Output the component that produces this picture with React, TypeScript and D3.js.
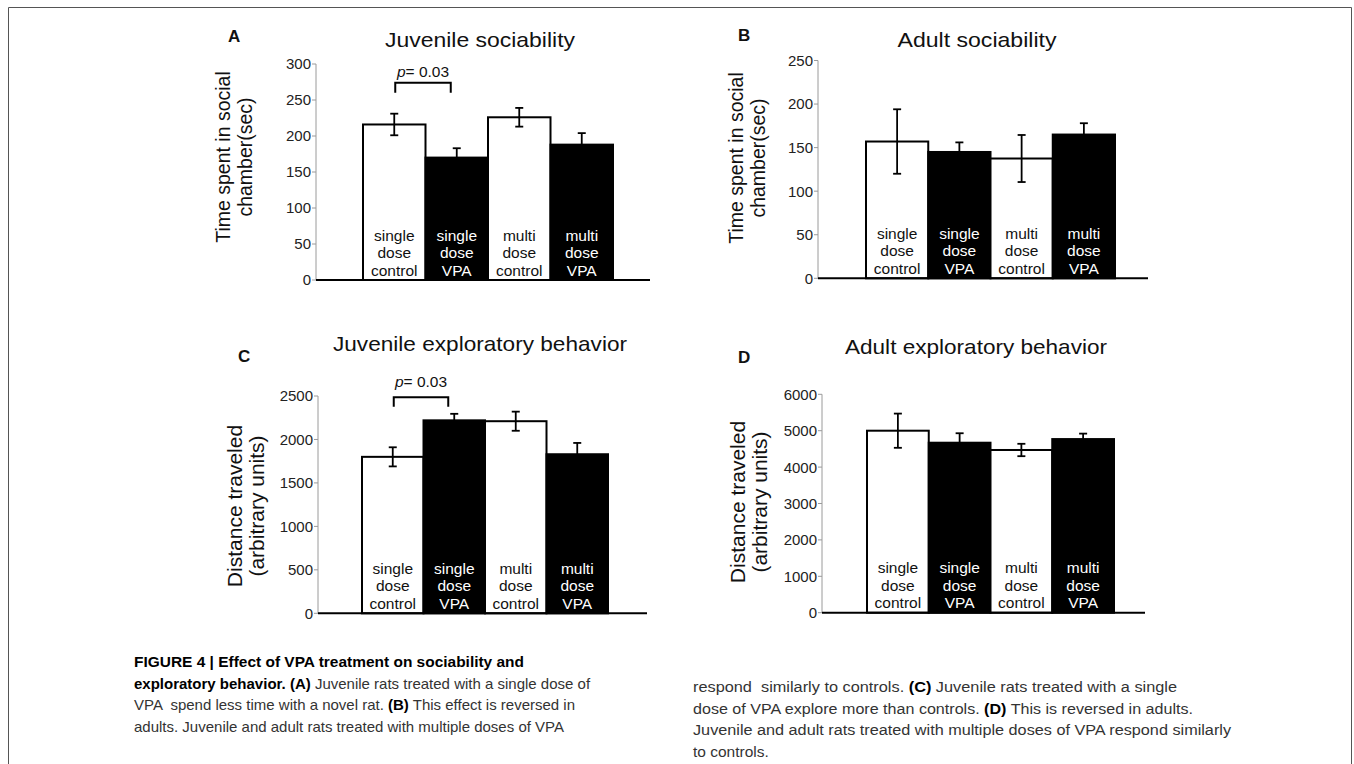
import React from "react";
import * as d3 from "d3";

// ---------- data ----------
const categories = ["single dose control", "single dose VPA", "multi dose control", "multi dose VPA"];
const categoryLines = [
  ["single", "dose", "control"],
  ["single", "dose", "VPA"],
  ["multi", "dose", "control"],
  ["multi", "dose", "VPA"],
];
const barFills = ["white", "black", "white", "black"];

const juvSocMeans = [216, 170, 226, 188];
const juvSocErr = [15, 13, 13, 16];
const adultSocMeans = [157, 145, 137.5, 165];
const adultSocErr = [37, 11, 27, 13];
const juvExpMeans = [1800, 2220, 2210, 1830];
const juvExpErr = [110, 75, 110, 130];
const adultExpMeans = [5000, 4670, 4470, 4770];
const adultExpErr = [470, 260, 170, 150];

const ticksA = [0, 50, 100, 150, 200, 250, 300];
const ticksB = [0, 50, 100, 150, 200, 250];
const ticksC = [0, 500, 1000, 1500, 2000, 2500];
const ticksD = [0, 1000, 2000, 3000, 4000, 5000, 6000];

const titles = ["Juvenile sociability", "Adult sociability", "Juvenile exploratory behavior", "Adult exploratory behavior"];
const letters = ["A", "B", "C", "D"];
const yLabelSoc = ["Time spent in social", "chamber(sec)"];
const yLabelExp = ["Distance traveled", "(arbitrary units)"];

// significance brackets: [bracket top, leg bottom, text baseline] in data units
const sigA = [274, 260, 282];
const sigC = [2486, 2377, 2608];
const sigText = "0.03";

type Seg = { t: string; b?: boolean };
const captionLeft: Seg[][] = [
  [{ t: "FIGURE 4 | Effect of VPA treatment on sociability and", b: true }],
  [{ t: "exploratory behavior. (A)", b: true }, { t: " Juvenile rats treated with a single dose of" }],
  [{ t: "VPA  spend less time with a novel rat. " }, { t: "(B)", b: true }, { t: " This effect is reversed in" }],
  [{ t: "adults. Juvenile and adult rats treated with multiple doses of VPA" }],
];
const captionRight: Seg[][] = [
  [{ t: "respond  similarly to controls. " }, { t: "(C)", b: true }, { t: " Juvenile rats treated with a single" }],
  [{ t: "dose of VPA explore more than controls. " }, { t: "(D)", b: true }, { t: " This is reversed in adults." }],
  [{ t: "Juvenile and adult rats treated with multiple doses of VPA respond similarly" }],
  [{ t: "to controls." }],
];
const captionLeftWidths = [390, 0, 0, 0];
const captionRightWidths = [484, 500, 538, 0];

// ---------- layout ----------
const FONT = "'Liberation Sans', Arial, Helvetica, sans-serif";

type Panel = {
  means: number[]; errs: number[]; ticks: number[]; max: number;
  axisX: number; baseY: number; topY: number; barX0: number; barX1: number; lineEnd: number;
  title: string; titleX: number; titleY: number; titleW: number;
  letter: string; letterX: number; letterY: number;
  yLabel: string[]; yl1: number; yl2: number; ylCY: number; ylFont: number;
  sig?: number[];
};

const panels: Panel[] = [
  {
    means: juvSocMeans, errs: juvSocErr, ticks: ticksA, max: 300,
    axisX: 316, baseY: 280, topY: 64, barX0: 363, barX1: 613, lineEnd: 650,
    title: titles[0], titleX: 480, titleY: 47, titleW: 190,
    letter: letters[0], letterX: 228, letterY: 42,
    yLabel: yLabelSoc, yl1: 230, yl2: 252, ylCY: 157, ylFont: 19.5, sig: sigA,
  },
  {
    means: adultSocMeans, errs: adultSocErr, ticks: ticksB, max: 250,
    axisX: 818, baseY: 278.3, topY: 60.5, barX0: 866, barX1: 1115, lineEnd: 1148,
    title: titles[1], titleX: 977, titleY: 47, titleW: 159,
    letter: letters[1], letterX: 738, letterY: 41,
    yLabel: yLabelSoc, yl1: 743, yl2: 765, ylCY: 158, ylFont: 19.5,
  },
  {
    means: juvExpMeans, errs: juvExpErr, ticks: ticksC, max: 2500,
    axisX: 318, baseY: 613.3, topY: 396, barX0: 362, barX1: 608, lineEnd: 647,
    title: titles[2], titleX: 480, titleY: 351, titleW: 294,
    letter: letters[2], letterX: 238, letterY: 362,
    yLabel: yLabelExp, yl1: 242, yl2: 264, ylCY: 506, ylFont: 21, sig: sigC,
  },
  {
    means: adultExpMeans, errs: adultExpErr, ticks: ticksD, max: 6000,
    axisX: 822, baseY: 612.7, topY: 394.3, barX0: 867, barX1: 1114, lineEnd: 1145,
    title: titles[3], titleX: 976, titleY: 354, titleW: 262,
    letter: letters[3], letterX: 738, letterY: 363,
    yLabel: yLabelExp, yl1: 745, yl2: 767, ylCY: 502, ylFont: 21,
  },
];

function BarPanel({ p }: { p: Panel }) {
  const y = d3.scaleLinear().domain([0, p.max]).range([p.baseY, p.topY]);
  const x = d3.scaleBand<string>().domain(categories).range([p.barX0, p.barX1]).padding(0);
  const bw = x.bandwidth();
  const cap = 4;
  return (
    <g fontFamily={FONT}>
      <text x={p.letterX} y={p.letterY} fontSize={17} fontWeight="bold" fill="#111">{p.letter}</text>
      <text x={p.titleX} y={p.titleY} fontSize={21} textAnchor="middle" fill="#111"
        textLength={p.titleW} lengthAdjust="spacingAndGlyphs">{p.title}</text>
      <text transform={`translate(${p.yl1},${p.ylCY}) rotate(-90)`} fontSize={p.ylFont} textAnchor="middle" fill="#111">{p.yLabel[0]}</text>
      <text transform={`translate(${p.yl2},${p.ylCY}) rotate(-90)`} fontSize={p.ylFont} textAnchor="middle" fill="#111">{p.yLabel[1]}</text>
      <line x1={p.axisX} x2={p.axisX} y1={y(0)} y2={y(p.max)} stroke="#9a9a9a" strokeWidth={1} />
      {p.ticks.map((t) => (
        <g key={t}>
          <line x1={p.axisX - 4} x2={p.axisX} y1={y(t)} y2={y(t)} stroke="#9a9a9a" strokeWidth={1} />
          <text x={p.axisX - 5} y={y(t)} dy="0.36em" fontSize={15} textAnchor="end" fill="#222">{t}</text>
        </g>
      ))}
      {categories.map((c, i) => (
        <rect key={c} x={x(c)} y={y(p.means[i])} width={bw} height={y(0) - y(p.means[i])}
          fill={barFills[i]} stroke="#000" strokeWidth={2} />
      ))}
      {categories.map((c, i) => {
        const cx = (x(c) as number) + bw / 2;
        const lo = y(p.means[i] - p.errs[i]);
        const hi = y(p.means[i] + p.errs[i]);
        return (
          <g key={c} stroke="#000" strokeWidth={1.8}>
            <line x1={cx} x2={cx} y1={lo} y2={hi} />
            <line x1={cx - cap} x2={cx + cap} y1={hi} y2={hi} />
            <line x1={cx - cap} x2={cx + cap} y1={lo} y2={lo} />
          </g>
        );
      })}
      {categories.map((c, i) => {
        const cx = (x(c) as number) + bw / 2;
        const col = barFills[i] === "black" ? "#fff" : "#111";
        return (
          <text key={c} x={cx} fontSize={15.5} textAnchor="middle" fill={col}>
            {categoryLines[i].map((ln, k) => (
              <tspan key={k} x={cx} y={p.baseY - 39.5 + k * 17.5}>{ln}</tspan>
            ))}
          </text>
        );
      })}
      <line x1={p.axisX} x2={p.lineEnd} y1={y(0)} y2={y(0)} stroke="#000" strokeWidth={2} />
      {p.sig && (() => {
        const x1 = (x(categories[0]) as number) + bw / 2 + 1;
        const x2 = (x(categories[1]) as number) + bw / 2 - 6;
        const top = y(p.sig[0]);
        const leg = y(p.sig[1]);
        return (
          <g>
            <path d={`M${x1},${leg}V${top}H${x2}V${leg}`} fill="none" stroke="#000" strokeWidth={2} />
            <text x={(x1 + x2) / 2} y={y(p.sig[2])} fontSize={15.5} textAnchor="middle" fill="#111">
              <tspan fontStyle="italic">p</tspan>
              <tspan>= {sigText}</tspan>
            </text>
          </g>
        );
      })()}
    </g>
  );
}

function Caption({ lines, widths, x, y0, dy, size }: { lines: Seg[][]; widths: number[]; x: number; y0: number; dy: number; size: number }) {
  return (
    <g fontFamily={FONT} fontSize={size}>
      {lines.map((segs, i) => (
        <text key={i} x={x} y={y0 + i * dy} fill="#333" xmlSpace="preserve"
          {...(widths[i] ? { textLength: widths[i], lengthAdjust: "spacingAndGlyphs" } : {})}>
          {segs.map((s, k) => (
            <tspan key={k} fontWeight={s.b ? "bold" : "normal"} fill={s.b ? "#000" : "#333"}>{s.t}</tspan>
          ))}
        </text>
      ))}
    </g>
  );
}

export default function App() {
  return (
    <svg width={1354} height={764} style={{ position: "absolute", left: 0, top: 0, background: "#fff" }}>
      <rect x={0} y={0} width={1354} height={764} fill="#fff" />
      <path d="M8.5,770V7.5H1351.5V770" fill="none" stroke="#555" strokeWidth={1} />
      {panels.map((p, i) => (
        <BarPanel key={i} p={p} />
      ))}
      <Caption lines={captionLeft} widths={captionLeftWidths} x={134} y0={667} dy={21.7} size={15} />
      <Caption lines={captionRight} widths={captionRightWidths} x={693} y0={692} dy={21.5} size={15.5} />
    </svg>
  );
}
